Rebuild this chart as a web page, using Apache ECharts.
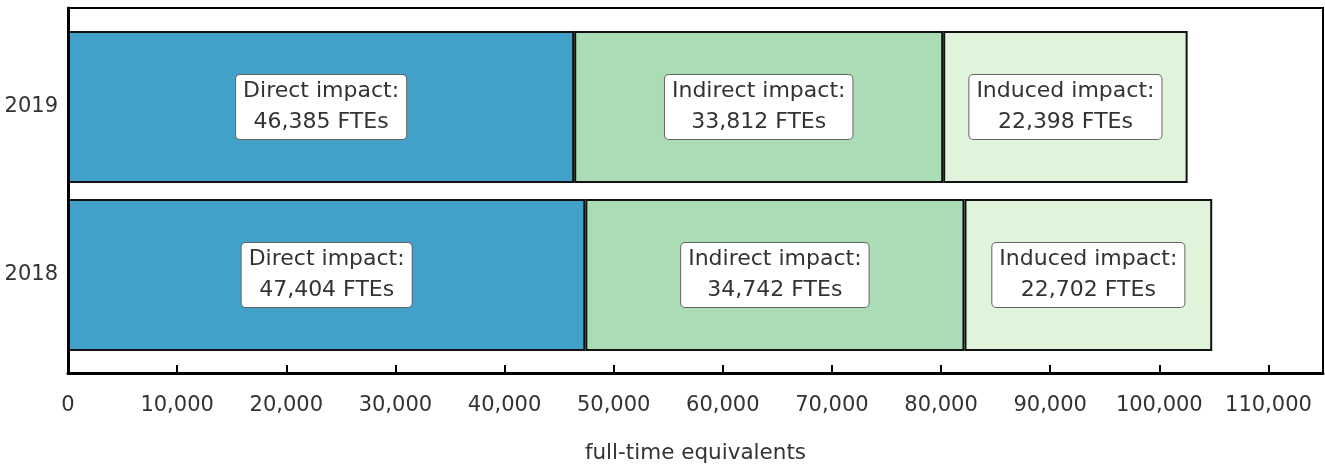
<!DOCTYPE html>
<html><head><meta charset="utf-8">
<script src="https://cdn.jsdelivr.net/npm/echarts@6/dist/echarts.min.js"></script>
<style>html,body{margin:0;padding:0;background:#fff}#c{width:1325px;height:464px}</style>
</head><body><div id="c"></div>
<script>
const years = ['2018', '2019'];
const directImpact = [47404, 46385];
const indirectImpact = [34742, 33812];
const inducedImpact = [22702, 22398];
const seriesNames = ['Direct impact', 'Indirect impact', 'Induced impact'];
const seriesColors = ['#42A1C9', '#AADCB6', '#E0F3DB'];
const axisName = 'full-time equivalents';
const xMin = 0, xMax = 115000, xStep = 10000;

const FONT = '"DejaVu Sans", Verdana, sans-serif';
const fmt = v => v.toLocaleString('en-US');
const values = [directImpact, indirectImpact, inducedImpact];

const chart = echarts.init(document.getElementById('c'), null, {renderer: 'canvas'});
chart.setOption({
  animation: false,
  grid: [
    {left: 68, right: 2, top: 23, bottom: 105, containLabel: false, outerBoundsMode: 'none', show: false},
    {left: 68, right: 2, top: 8, bottom: 91, containLabel: false, outerBoundsMode: 'none',
      show: true, borderColor: '#000', borderWidth: 2, backgroundColor: 'transparent', z: 10}
  ],
  xAxis: [
    {gridIndex: 0, type: 'value', min: xMin, max: xMax, interval: xStep, show: false},
    {
      gridIndex: 1, type: 'value', min: xMin, max: xMax, interval: xStep,
      name: axisName, nameLocation: 'middle', nameGap: 69,
      nameTextStyle: {fontFamily: FONT, fontSize: 21.5, color: '#333'},
      axisLine: {show: true, lineStyle: {color: '#000', width: 3}},
      axisTick: {show: true, inside: true, length: 8, lineStyle: {color: '#000', width: 2}},
      axisLabel: {showMaxLabel: false, margin: 22, fontFamily: FONT, fontSize: 21, color: '#333',
        formatter: v => v >= xMax ? '' : fmt(v)},
      splitLine: {show: false}, z: 10
    }
  ],
  yAxis: [
    {
      gridIndex: 0, type: 'category', data: years,
      axisLine: {show: false}, axisTick: {show: false},
      axisLabel: {margin: 10, fontFamily: FONT, fontSize: 21, color: '#333'}
    },
    {
      gridIndex: 1, type: 'value', min: 0, max: 1,
      axisLine: {show: true, lineStyle: {color: '#000', width: 3}},
      axisTick: {show: false}, axisLabel: {show: false}, splitLine: {show: false}, z: 10
    }
  ],
  series: seriesNames.map((n, i) => ({
    name: n, type: 'bar', stack: 'total', barWidth: '90.5%',
    xAxisIndex: 0, yAxisIndex: 0,
    data: values[i],
    itemStyle: {color: seriesColors[i], borderColor: '#111', borderWidth: 2},
    label: {
      show: true, position: 'inside',
      formatter: p => n + ':\n' + fmt(p.value) + ' FTEs',
      fontFamily: FONT, fontSize: 22, color: '#333', lineHeight: 31,
      backgroundColor: '#fff', borderColor: '#666', borderWidth: 1, borderRadius: 4,
      padding: [1, 7]
    }
  }))
});
</script></body></html>
